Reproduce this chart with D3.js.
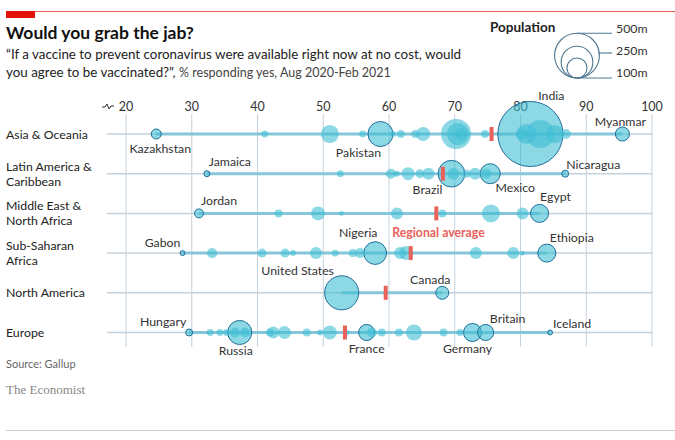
<!DOCTYPE html>
<html>
<head>
<meta charset="utf-8">
<script src="https://cdn.jsdelivr.net/npm/d3@7"></script>
<style>
  body { margin: 0; background: #fff; }
  svg text { font-family: Lato, "Noto Sans", sans-serif; }
</style>
</head>
<body>
<div id="chart"></div>
<script>
// regions, top to bottom
const regions = ["Asia & Oceania", "Latin America & Caribbean", "Middle East & North Africa",
  "Sub-Saharan Africa", "North America", "Europe"];
const regionLines = [["Asia & Oceania"], ["Latin America &", "Caribbean"], ["Middle East &", "North Africa"],
  ["Sub-Saharan", "Africa"], ["North America"], ["Europe"]];
const regionAverages = [75.6, 68.2, 67.2, 63.3, 59.5, 53.3];

const xTicks = [20, 30, 40, 50, 60, 70, 80, 90, 100];

// [% yes, population m, name]  (name only for labelled countries)
const asia = [[24.6, 25, "Kazakhstan"], [41.1, 12], [51.0, 81], [56.0, 12], [58.7, 156, "Pakistan"],
  [60.6, 9], [61.8, 16], [64.0, 16], [65.2, 49], [70.2, 225], [70.5, 121], [71.0, 36], [74.6, 16],
  [81.5, 1056, "India"], [80.2, 36], [80.9, 100], [83.0, 196], [85.2, 81], [86.9, 25], [95.5, 49, "Myanmar"]];
const latam = [[32.3, 9, "Jamaica"], [52.6, 12], [60.3, 25], [61.2, 9], [62.9, 42], [64.7, 20], [66.0, 36],
  [69.5, 177, "Brazil"], [69.8, 36], [71.8, 16], [73.1, 36], [74.8, 25], [75.4, 100, "Mexico"],
  [86.8, 12, "Nicaragua"]];
const mena = [[31.1, 20, "Jordan"], [43.2, 16], [49.2, 49], [52.8, 6], [61.2, 36], [68.1, 16], [75.5, 81],
  [80.3, 36], [82.9, 81, "Egypt"]];
const ssa = [[28.6, 6, "Gabon"], [33.1, 25], [40.7, 20], [44.2, 20], [45.4, 9], [48.9, 36], [51.8, 12],
  [54.5, 16], [55.6, 25], [57.9, 128, "Nigeria"], [61.7, 36], [62.6, 49], [73.2, 36], [78.9, 36],
  [80.3, 6], [84.0, 81, "Ethiopia"]];
const northAmerica = [[52.8, 289, "United States"], [68.1, 42, "Canada"]];
const europe = [[29.6, 12, "Hungary"], [32.8, 12], [34.3, 12], [35.3, 12], [37.3, 144, "Russia"], [36.6, 25],
  [38.1, 25], [41.9, 16], [42.4, 36], [44.1, 42], [47.5, 16], [49.5, 9], [51.0, 49], [53.5, 9],
  [56.6, 64, "France"], [57.4, 25], [58.9, 16], [61.5, 16], [63.8, 64], [68.3, 16], [70.8, 12],
  [72.7, 81, "Germany"], [74.7, 64, "Britain"], [84.5, 6, "Iceland"]];
const rows = [asia, latam, mena, ssa, northAmerica, europe];

const legendPops = [500, 250, 100];

const W = 675, H = 440;
const svg = d3.select("#chart").append("svg")
  .attr("width", W).attr("height", H);

// header
svg.append("line").attr("x1", 6).attr("x2", W).attr("y1", 11.5).attr("y2", 11.5)
  .attr("stroke", "#e3120b").attr("stroke-width", 1).attr("opacity", 0.7);
svg.append("rect").attr("x", 6).attr("y", 11).attr("width", 29).attr("height", 7).attr("fill", "#e3120b");
svg.append("text").attr("x", 6).attr("y", 39).text("Would you grab the jab?")
  .attr("font-size", 17.5).attr("font-weight", 700).attr("fill", "#111");
svg.append("text").attr("x", 6).attr("y", 59)
  .text("\u201cIf a vaccine to prevent coronavirus were available right now at no cost, would")
  .attr("font-size", 13.4).attr("fill", "#222");
const sub2 = svg.append("text").attr("x", 6).attr("y", 77).attr("font-size", 13.4).attr("fill", "#222");
sub2.append("tspan").text("you agree to be vaccinated?\u201d, ");
sub2.append("tspan").text("% responding yes, Aug 2020-Feb 2021").attr("font-size", 12.5).attr("fill", "#444");

// scales
const x = d3.scaleLinear().domain([20, 100]).range([126, 652]);
const y = d3.scalePoint().domain(regions).range([134, 332.5]);
const r = d3.scaleSqrt().domain([0, 500]).range([0, 22.4]);

// vertical gridlines + tick labels
const g = svg.append("g");
g.selectAll(".grid").data(xTicks).enter().append("line")
  .attr("x1", d => x(d)).attr("x2", d => x(d)).attr("y1", 114).attr("y2", 347)
  .attr("stroke", "#c3d2dd").attr("stroke-width", 1);
g.selectAll(".tick").data(xTicks).enter().append("text")
  .attr("x", d => x(d)).attr("y", 111).attr("text-anchor", "middle")
  .attr("font-size", 12.5).attr("fill", "#333").text(d => d);
// axis break mark
g.append("path").attr("d", "M102,107 L105,107 L107,104 L109,109 L111,106 L114,106")
  .attr("fill", "none").attr("stroke", "#333").attr("stroke-width", 1);

// row labels
regionLines.forEach((lines, i) => {
  const cy = y(regions[i]);
  const t = svg.append("text").attr("x", 6).attr("font-size", 12.3).attr("fill", "#222");
  lines.forEach((ln, j) => {
    t.append("tspan").attr("x", 6)
      .attr("y", cy + 4.5 + (j - (lines.length - 1) / 2) * 15).text(ln);
  });
});

// row lines
rows.forEach((pts, i) => {
  const cy = y(regions[i]);
  svg.append("line").attr("x1", 107).attr("x2", x(100)).attr("y1", cy).attr("y2", cy)
    .attr("stroke", "#c3d2dd").attr("stroke-width", 1.5);
  const ext = d3.extent(pts, d => d[0]);
  svg.append("line").attr("x1", x(ext[0])).attr("x2", x(ext[1])).attr("y1", cy).attr("y2", cy)
    .attr("stroke", "#86c6da").attr("stroke-width", 3);
});

// bubbles, biggest first
const all = [];
rows.forEach((pts, i) => pts.forEach(d => all.push({ region: regions[i], v: d[0], pop: d[1], name: d[2] })));
all.sort((a, b) => b.pop - a.pop);
svg.selectAll(".dot").data(all).enter().append("circle")
  .attr("cx", d => x(d.v)).attr("cy", d => y(d.region)).attr("r", d => r(d.pop))
  .attr("fill", "#40bed4").attr("fill-opacity", 0.6)
  .attr("stroke", d => d.name ? "#1f6d98" : "none").attr("stroke-width", 1);

// regional averages
svg.selectAll(".avg").data(regionAverages).enter().append("rect")
  .attr("x", d => x(d) - 2).attr("y", (d, i) => y(regions[i]) - 7)
  .attr("width", 4).attr("height", 14).attr("fill", "#e8615b");
svg.append("text").attr("x", 438.5).attr("y", 236.5).attr("text-anchor", "middle")
  .attr("font-size", 12.3).attr("font-weight", 700).attr("fill", "#e8615b").text("Regional average");

// country labels
const labelOffsets = {
  "Kazakhstan": [4, 19], "Pakistan": [-22, 23], "India": [21, -34], "Myanmar": [-2, -8],
  "Jamaica": [23, -8], "Brazil": [-24, 20], "Mexico": [25, 18], "Nicaragua": [28, -5],
  "Jordan": [20, -8], "Egypt": [16, -12], "Gabon": [-20, -6], "Nigeria": [-17, -16],
  "Ethiopia": [25, -11.5], "United States": [-44, -18], "Canada": [-12, -9],
  "Hungary": [-26, -6.5], "Russia": [-4, 22.5], "France": [0, 20], "Germany": [-5, 20],
  "Britain": [22, -10], "Iceland": [22, -4.5]
};
svg.selectAll(".lbl").data(all.filter(d => d.name)).enter().append("text")
  .attr("x", d => x(d.v) + labelOffsets[d.name][0])
  .attr("y", d => y(d.region) + labelOffsets[d.name][1])
  .attr("text-anchor", "middle").attr("font-size", 12.3).attr("fill", "#333")
  .text(d => d.name);

// legend
const lg = svg.append("g");
const lcx = 577, lbase = 78;
lg.append("text").attr("x", 490).attr("y", 32).text("Population")
  .attr("font-size", 13.5).attr("font-weight", 700).attr("fill", "#222");
lg.selectAll("circle").data(legendPops).enter().append("circle")
  .attr("cx", lcx).attr("cy", d => lbase - r(d)).attr("r", d => r(d))
  .attr("fill", "none").attr("stroke", "#4d7890").attr("stroke-width", 1.1);
const lineY = [lbase - 2 * r(500), 53, lbase];
const lineX0 = [lcx, lcx + 21, lcx];
legendPops.forEach((p, i) => {
  lg.append("line").attr("x1", lineX0[i]).attr("x2", 612).attr("y1", lineY[i]).attr("y2", lineY[i])
    .attr("stroke", "#4d7890").attr("stroke-width", 1.1);
  lg.append("text").attr("x", 616).attr("y", 33 + i * 22).text(p + "m")
    .attr("font-size", 12.3).attr("fill", "#333");
});

// footer
svg.append("text").attr("x", 6).attr("y", 368).text("Source: Gallup")
  .attr("font-size", 11).attr("fill", "#666");
svg.append("text").attr("x", 6).attr("y", 394).text("The Economist")
  .attr("font-size", 13).attr("fill", "#888").style("font-family", "'Liberation Serif', 'DejaVu Serif', serif");
svg.append("line").attr("x1", 6).attr("x2", W).attr("y1", 430.5).attr("y2", 430.5)
  .attr("stroke", "#ccc").attr("stroke-width", 1);
</script>
</body>
</html>
